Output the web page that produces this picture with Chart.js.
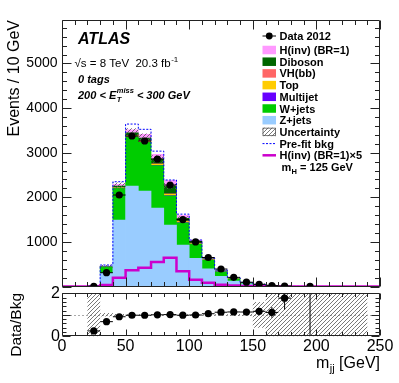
<!DOCTYPE html>
<html>
<head>
<meta charset="utf-8">
<script src="https://cdn.jsdelivr.net/npm/chart.js@4.4.1/dist/chart.umd.min.js"></script>
<style>
  html, body { margin: 0; padding: 0; background: #fff; }
  #wrap { position: relative; width: 399px; height: 383px; overflow: hidden; background: #fff; }
  #wrap canvas { position: absolute; left: 0; }
  #main { top: 0; }
  #ratio { top: 270px; }
</style>
</head>
<body>
<div id="wrap">
  <canvas id="main" width="399" height="310"></canvas>
  <canvas id="ratio" width="399" height="113"></canvas>
</div>
<script>
/* ATLAS 0-tag m_jj distribution, 200 < MET < 300 GeV */
(function () {
  'use strict';

  // 10 GeV bins, lower edges
  var binLow   = [0, 10, 20, 30, 40, 50, 60, 70, 80, 90, 100, 110, 120, 130, 140, 150, 160, 170, 180, 190, 200, 210, 220, 230, 240];

  // stacked backgrounds (events / 10 GeV)
  var zJets    = [0, 0, 13, 300, 1490, 2253, 2141, 1760, 1379, 930, 632, 397, 228, 123, 61, 31, 13, 4.6, 2.2, 0.3, 0.5, 0.3, 0.2, 0.1, 0];
  var wJets    = [0, 0, 7, 139, 714, 1100, 1090, 950, 655, 500, 318, 195, 103, 49, 19, 9, 4, 1.4, 0.8, 0.1, 0.2, 0.1, 0.1, 0, 0];
  var multijet = [0, 0, 0, 5, 5, 5, 5, 5, 5, 3, 2, 2, 1, 0, 0, 0, 0, 0, 0, 0, 0, 0, 0, 0, 0];
  var topQuark = [0, 0, 0, 5, 10, 20, 20, 25, 25, 20, 15, 10, 8, 5, 3, 2, 1, 0.2, 0, 0, 0, 0, 0, 0, 0];
  var vhbb     = [0, 0, 0, 0, 5, 5, 8, 10, 15, 15, 5, 3, 2, 1, 0, 0, 0, 0, 0, 0, 0, 0, 0, 0, 0];
  var diboson  = [0, 0, 0, 5, 30, 60, 65, 108, 174, 62, 38, 12, 8, 3, 2, 1, 0, 0, 0, 0, 0, 0, 0, 0, 0];
  var hinvBR1  = [0, 0, 0, 6, 38, 72, 82, 108, 126, 67, 30, 16, 8, 4, 2, 1, 0.5, 0, 0, 0, 0, 0, 0, 0, 0];

  // overlays
  var hinvX5   = [0, 0, 0, 31, 194, 367, 418, 551, 643, 343, 153, 82, 41, 20, 10, 5, 3, 1, 0, 0, 0, 0, 0, 0, 0];
  var prefit   = [0, 0, 20, 481, 2349, 3642, 3524, 3035, 2388, 1622, 1042, 643, 372, 199, 92, 47, 19, 7, 3.2, 0.5, 0.8, 0.5, 0.3, 0.1, 0];
  var data2012 = [0, 0, 5, 309, 2051, 3374, 3262, 2858, 2276, 1500, 1000, 650, 392, 205, 96, 50, 20, 11, 0, 1, 0, 0, 0, 0, 0];
  var uncRel   = [0, 0, 1.5, 0.08, 0.035, 0.03, 0.03, 0.03, 0.03, 0.03, 0.03, 0.03, 0.03, 0.04, 0.04, 0.6, 1.5, 1.5, 1.5, 1.5, 1.5, 1.5, 1.5, 1.5, 0];

  // axis ticks
  var xTicks      = [0, 50, 100, 150, 200, 250];
  var yTicks      = [1000, 2000, 3000, 4000, 5000];
  var ratioTicks  = [0, 1, 2];

  var BIN_W = 10;
  var X_MAX = 250;
  var Y_MAX = 5975;

  var FONT = '"Liberation Sans", Arial, Helvetica, sans-serif';
  var COL = {
    z: '#99ccff', w: '#00cc00', mj: '#6600ff', top: '#ffcc00', vh: '#ff6666',
    dib: '#006600', hinv: '#ff99ff', hinv5: '#cc00cc', prefit: '#0000ff', frame: '#222'
  };

  function bkgAt(i) {
    return zJets[i] + wJets[i] + multijet[i] + topQuark[i] + vhbb[i] + diboson[i];
  }

  function barData(arr) {
    var out = [];
    arr.forEach(function (v, i) { if (v > 0) out.push({ x: binLow[i] + BIN_W / 2, y: v }); });
    return out;
  }

  function stepData(arr) {
    var pts = arr.map(function (v, i) { return { x: binLow[i], y: v }; });
    pts.push({ x: binLow[binLow.length - 1] + BIN_W, y: arr[arr.length - 1] });
    return pts;
  }

  function hatchPattern(color) {
    var c = document.createElement('canvas');
    c.width = 4; c.height = 4;
    var g = c.getContext('2d');
    g.strokeStyle = color;
    g.lineWidth = 0.8;
    g.beginPath();
    g.moveTo(0, 4); g.lineTo(4, 0);
    g.moveTo(-1, 1); g.lineTo(1, -1);
    g.moveTo(3, 5); g.lineTo(5, 3);
    g.stroke();
    return g.createPattern(c, 'repeat');
  }
  var hatch = hatchPattern('#555');

  // main band, data points, ratio points
  var mainBand = [], dataPts = [], ratioBand = [], ratioPts = [];
  binLow.forEach(function (lo, i) {
    var b = bkgAt(i), c = lo + BIN_W / 2, u = uncRel[i];
    if (u > 0 && b > 0) {
      mainBand.push({ x: c, y: [Math.max(0, b * (1 - u)), b * (1 + u)] });
      ratioBand.push({ x: c, y: [Math.max(-0.1, 1 - u), Math.min(2.1, 1 + u)] });
    }
    if (data2012[i] > 0) {
      dataPts.push({ x: c, y: data2012[i], err: Math.sqrt(data2012[i]) });
      if (b > 0) ratioPts.push({ x: c, y: data2012[i] / b, err: Math.sqrt(data2012[i]) / b });
    }
  });

  function drawFrame(chart, xMinor, xMajor, xMinLen, xMajLen, yMinor, yMajor, yMinLen, yMajLen) {
    var a = chart.chartArea, ctx = chart.ctx;
    var xs = chart.scales.x, ys = chart.scales.y;
    var L = Math.round(a.left) + 0.5, R = Math.round(a.right) - 0.5;
    var T = Math.round(a.top) + 0.5, B = Math.round(a.bottom) - 0.5;
    var k, n, v, p, len;
    ctx.save();
    ctx.strokeStyle = COL.frame;
    ctx.lineWidth = 1;
    ctx.beginPath();
    ctx.rect(L, T, R - L, B - T);
    n = Math.floor((xs.max - xs.min) / xMinor + 1e-6);
    for (k = 0; k <= n; k++) {
      v = xs.min + k * xMinor;
      p = Math.round(xs.getPixelForValue(v)) + 0.5;
      len = Math.abs(v / xMajor - Math.round(v / xMajor)) < 1e-6 ? xMajLen : xMinLen;
      ctx.moveTo(p, B); ctx.lineTo(p, B - len);
      ctx.moveTo(p, T); ctx.lineTo(p, T + len);
    }
    n = Math.floor((ys.max - ys.min) / yMinor + 1e-6);
    for (k = 0; k <= n; k++) {
      v = ys.min + k * yMinor;
      p = Math.round(ys.getPixelForValue(v)) + 0.5;
      len = Math.abs(v / yMajor - Math.round(v / yMajor)) < 1e-6 ? yMajLen : yMinLen;
      ctx.moveTo(L, p); ctx.lineTo(L + len, p);
      ctx.moveTo(R, p); ctx.lineTo(R - len, p);
    }
    ctx.stroke();
    ctx.restore();
  }

  function drawErrors(chart, pts, yScaleId) {
    var ctx = chart.ctx, a = chart.chartArea;
    var xs = chart.scales.x, ys = chart.scales[yScaleId];
    ctx.save();
    ctx.beginPath();
    ctx.rect(a.left, a.top, a.right - a.left, a.bottom - a.top);
    ctx.clip();
    ctx.strokeStyle = '#000';
    ctx.lineWidth = 1;
    ctx.beginPath();
    pts.forEach(function (p) {
      var px = xs.getPixelForValue(p.x), py = ys.getPixelForValue(p.y);
      ctx.moveTo(xs.getPixelForValue(p.x - BIN_W / 2), py);
      ctx.lineTo(xs.getPixelForValue(p.x + BIN_W / 2), py);
      ctx.moveTo(px, ys.getPixelForValue(p.y - p.err));
      ctx.lineTo(px, ys.getPixelForValue(p.y + p.err));
    });
    ctx.stroke();
    ctx.restore();
  }

  function txt(ctx, s, x, y, font) {
    ctx.font = font;
    ctx.fillText(s, x, y);
    return x + ctx.measureText(s).width;
  }

  var legendRows = [
    { kind: 'data',  label: 'Data 2012' },
    { kind: 'box',   label: 'H(inv) (BR=1)', color: COL.hinv },
    { kind: 'box',   label: 'Diboson',  color: COL.dib },
    { kind: 'box',   label: 'VH(bb)',   color: COL.vh },
    { kind: 'box',   label: 'Top',      color: COL.top },
    { kind: 'box',   label: 'Multijet', color: COL.mj },
    { kind: 'box',   label: 'W+jets',   color: COL.w },
    { kind: 'box',   label: 'Z+jets',   color: COL.z },
    { kind: 'hatch', label: 'Uncertainty' },
    { kind: 'dash',  label: 'Pre-fit bkg', color: COL.prefit },
    { kind: 'line',  label: 'H(inv) (BR=1)\u00d75', color: COL.hinv5 },
    { kind: 'mh' }
  ];

  var mainDecor = {
    id: 'mainDecor',
    afterDatasetsDraw: function (chart) { drawErrors(chart, dataPts, 'y2'); },
    afterDraw: function (chart) {
      var ctx = chart.ctx, x;
      drawFrame(chart, 10, 50, 4.5, 9, 200, 1000, 4.5, 9);

      ctx.save();
      ctx.fillStyle = '#000';
      ctx.textAlign = 'left';
      ctx.textBaseline = 'alphabetic';

      // y title
      ctx.save();
      ctx.translate(18.5, 20);
      ctx.rotate(-Math.PI / 2);
      ctx.textAlign = 'right';
      txt(ctx, 'Events / 10 GeV', 0, 0, '16px ' + FONT);
      ctx.restore();

      txt(ctx, 'ATLAS', 78, 44, 'italic bold 16px ' + FONT);
      x = txt(ctx, '\u221As = 8 TeV  20.3 fb', 74.5, 67, '11.5px ' + FONT);
      txt(ctx, '-1', x + 0.5, 62, '8px ' + FONT);
      txt(ctx, '0 tags', 78, 83, 'italic bold 11px ' + FONT);
      x = txt(ctx, '200 < E', 78, 99, 'italic bold 11px ' + FONT);
      var x2 = txt(ctx, 'miss', x + 0.5, 93, 'italic bold 7.5px ' + FONT);
      txt(ctx, 'T', x + 0.5, 102, 'italic bold 7.5px ' + FONT);
      txt(ctx, ' < 300 GeV', x2, 99, 'italic bold 11px ' + FONT);

      // legend
      var bx = 262.5, bw = 13.5, bh = 8.5, tx = 279.5;
      legendRows.forEach(function (r, i) {
        var y = i === 0 ? 36 : 50 + (i - 1) * 11.7;
        ctx.save();
        if (r.kind === 'data') {
          ctx.strokeStyle = '#000'; ctx.lineWidth = 1;
          ctx.beginPath(); ctx.moveTo(bx, y); ctx.lineTo(bx + bw, y); ctx.stroke();
          ctx.fillStyle = '#000';
          ctx.beginPath(); ctx.arc(bx + bw / 2, y, 3.4, 0, Math.PI * 2); ctx.fill();
        } else if (r.kind === 'box') {
          ctx.fillStyle = r.color;
          ctx.fillRect(bx, y - bh / 2, bw, bh);
        } else if (r.kind === 'hatch') {
          ctx.fillStyle = hatch;
          ctx.fillRect(bx, y - bh / 2, bw, bh);
          ctx.strokeStyle = '#555'; ctx.lineWidth = 0.8;
          ctx.strokeRect(bx + 0.5, y - bh / 2 + 0.5, bw - 1, bh - 1);
        } else if (r.kind === 'dash') {
          ctx.strokeStyle = r.color; ctx.lineWidth = 1; ctx.setLineDash([2, 1.5]);
          ctx.beginPath(); ctx.moveTo(bx, y); ctx.lineTo(bx + bw, y); ctx.stroke();
        } else if (r.kind === 'line') {
          ctx.strokeStyle = r.color; ctx.lineWidth = 2.5;
          ctx.beginPath(); ctx.moveTo(bx, y); ctx.lineTo(bx + bw, y); ctx.stroke();
        }
        ctx.restore();
        if (r.kind === 'mh') {
          var mx = txt(ctx, 'm', tx + 2, y + 4, 'bold 11px ' + FONT);
          mx = txt(ctx, 'H', mx + 0.3, y + 7, 'bold 7.5px ' + FONT);
          txt(ctx, ' = 125 GeV', mx, y + 4, 'bold 11px ' + FONT);
        } else {
          txt(ctx, r.label, tx, y + 4, 'bold 11px ' + FONT);
        }
      });
      ctx.restore();
    }
  };

  var ratioDecor = {
    id: 'ratioDecor',
    beforeDatasetsDraw: function (chart) {
      var ctx = chart.ctx, a = chart.chartArea, y = Math.round(chart.scales.y.getPixelForValue(1)) + 0.5;
      ctx.save();
      ctx.strokeStyle = '#aaa';
      ctx.lineWidth = 1;
      ctx.setLineDash([2, 2]);
      ctx.beginPath(); ctx.moveTo(a.left, y); ctx.lineTo(a.right, y); ctx.stroke();
      ctx.restore();
    },
    afterDatasetsDraw: function (chart) { drawErrors(chart, ratioPts, 'y'); },
    afterDraw: function (chart) {
      var ctx = chart.ctx, x;
      drawFrame(chart, 10, 50, 3.5, 6, 0.2, 1, 4, 8);
      ctx.save();
      ctx.fillStyle = '#000';
      ctx.textBaseline = 'alphabetic';
      ctx.save();
      ctx.translate(20.5, 23);
      ctx.rotate(-Math.PI / 2);
      ctx.textAlign = 'right';
      txt(ctx, 'Data/Bkg', 0, 0, '15.5px ' + FONT);
      ctx.restore();
      // x title, right aligned to frame
      ctx.textAlign = 'left';
      ctx.font = '16px ' + FONT;
      var w1 = ctx.measureText('m').width, w3 = ctx.measureText(' [GeV]').width;
      ctx.font = '11px ' + FONT;
      var w2 = ctx.measureText('jj').width;
      x = chart.chartArea.right - (w1 + w2 + w3 + 0.5);
      x = txt(ctx, 'm', x, 98, '16px ' + FONT);
      x = txt(ctx, 'jj', x + 0.5, 101.5, '11px ' + FONT);
      txt(ctx, ' [GeV]', x, 98, '16px ' + FONT);
      ctx.restore();
    }
  };

  function stackSet(label, arr, color) {
    return { label: label, data: barData(arr), backgroundColor: color, borderWidth: 0,
             stack: 'bkg', barPercentage: 1, categoryPercentage: 1, order: 10 };
  }

  function plainTick(v) { return String(v); }

  new Chart(document.getElementById('main'), {
    type: 'bar',
    data: {
      datasets: [
        stackSet('Z+jets', zJets, COL.z),
        stackSet('W+jets', wJets, COL.w),
        stackSet('Multijet', multijet, COL.mj),
        stackSet('Top', topQuark, COL.top),
        stackSet('VH(bb)', vhbb, COL.vh),
        stackSet('Diboson', diboson, COL.dib),
        stackSet('H(inv) (BR=1)', hinvBR1, COL.hinv),
        { label: 'Uncertainty', data: mainBand, backgroundColor: hatch, borderWidth: 0, yAxisID: 'y2',
          grouped: false, barPercentage: 1, categoryPercentage: 1, inflateAmount: 0, order: 5 },
        { type: 'line', label: 'Pre-fit bkg', data: stepData(prefit), stepped: 'before', yAxisID: 'y2',
          borderColor: COL.prefit, borderWidth: 1, borderDash: [2, 1.5], pointRadius: 0, fill: false, order: 3 },
        { type: 'line', label: 'H(inv) (BR=1)x5', data: stepData(hinvX5), stepped: 'before', yAxisID: 'y2',
          borderColor: COL.hinv5, borderWidth: 2.5, pointRadius: 0, fill: false, order: 2 },
        { type: 'line', label: 'Data 2012', data: dataPts, showLine: false, yAxisID: 'y2',
          pointRadius: 3.6, pointBackgroundColor: '#000', pointBorderWidth: 0, order: 1 }
      ]
    },
    options: {
      responsive: false,
      animation: false,
      layout: { padding: { top: 20, right: 19, bottom: 23.5, left: 0 } },
      plugins: { legend: { display: false }, tooltip: { enabled: false } },
      scales: {
        x: { type: 'linear', min: 0, max: X_MAX, offset: false, stacked: true, display: false },
        y: {
          stacked: true, min: 0, max: Y_MAX,
          grid: { display: false, drawTicks: false }, border: { display: false },
          afterBuildTicks: function (s) { s.ticks = yTicks.map(function (v) { return { value: v }; }); },
          afterFit: function (s) { s.width = 62; },
          ticks: { padding: 4.5, color: '#000', font: { family: FONT, size: 14 }, callback: plainTick }
        },
        y2: { min: 0, max: Y_MAX, display: false }
      }
    },
    plugins: [mainDecor]
  });

  new Chart(document.getElementById('ratio'), {
    type: 'bar',
    data: {
      datasets: [
        { label: 'Uncertainty', data: ratioBand, backgroundColor: hatch, borderWidth: 0, grouped: false,
          barPercentage: 1, categoryPercentage: 1, inflateAmount: 0, order: 3 },
        { type: 'line', label: 'Data/Bkg', data: ratioPts, showLine: false,
          pointRadius: 3.6, pointBackgroundColor: '#000', pointBorderWidth: 0, order: 1 }
      ]
    },
    options: {
      responsive: false,
      animation: false,
      layout: { padding: { top: 23.3, right: 19, bottom: 0, left: 0 } },
      plugins: { legend: { display: false }, tooltip: { enabled: false } },
      scales: {
        x: {
          type: 'linear', min: 0, max: X_MAX, offset: false,
          grid: { display: false, drawTicks: false }, border: { display: false },
          afterBuildTicks: function (s) { s.ticks = xTicks.map(function (v) { return { value: v }; }); },
          afterFit: function (s) { s.height = 46.7; },
          ticks: { padding: 1, autoSkip: false, maxRotation: 0, color: '#000', font: { family: FONT, size: 16 }, callback: plainTick }
        },
        y: {
          min: 0, max: 2,
          grid: { display: false, drawTicks: false }, border: { display: false },
          afterBuildTicks: function (s) { s.ticks = ratioTicks.map(function (v) { return { value: v }; }); },
          afterFit: function (s) { s.width = 62; },
          ticks: { padding: 2, color: '#000', font: { family: FONT, size: 16 }, callback: plainTick }
        }
      }
    },
    plugins: [ratioDecor]
  });
})();
</script>
</body>
</html>
